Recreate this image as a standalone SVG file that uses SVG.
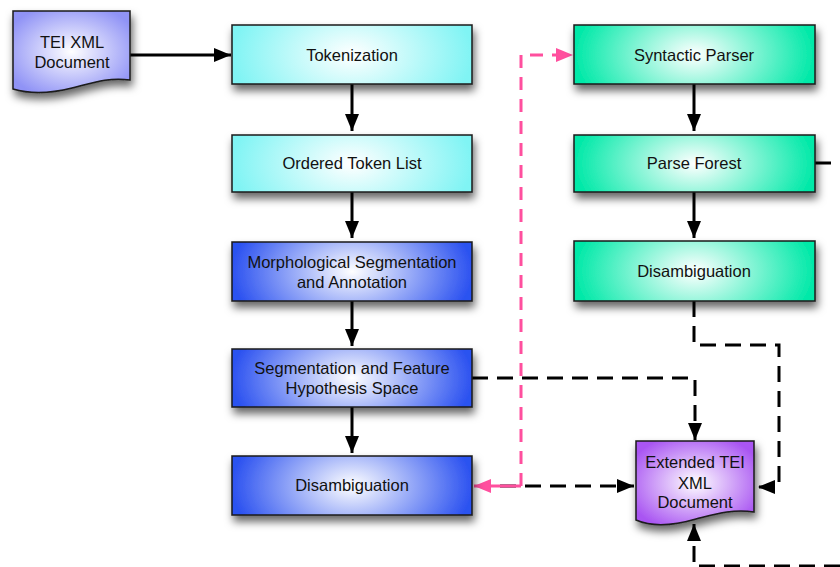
<svg xmlns="http://www.w3.org/2000/svg" width="840" height="567" viewBox="0 0 840 567">
<style>
text{font-family:"Liberation Sans",Arial,sans-serif;font-size:16.5px;fill:#111;text-anchor:middle}
.box{stroke:#1a1a1a;stroke-width:1.5;filter:url(#sh)}
.solid{fill:none;stroke:#000;stroke-width:3}
.dash{fill:none;stroke:#000;stroke-width:3;stroke-dasharray:16 9}
.pink{fill:none;stroke:#ff4f9e;stroke-width:3;stroke-dasharray:13 9}
</style>
<defs>
<filter id="sh" x="-10%" y="-20%" width="125%" height="160%">
<feDropShadow dx="2" dy="6" stdDeviation="4" flood-color="#000" flood-opacity="0.6"/>
</filter>
<radialGradient id="gc" cx="0.5" cy="0.5" r="0.5" gradientTransform="translate(0.5,0.5) scale(1,2.5) translate(-0.5,-0.5)">
<stop offset="0" stop-color="#ffffff"/><stop offset="1" stop-color="#80f4f4"/>
</radialGradient>
<radialGradient id="gb" cx="0.5" cy="0.5" r="0.5" gradientTransform="translate(0.5,0.5) scale(1,2.5) translate(-0.5,-0.5)">
<stop offset="0" stop-color="#ffffff"/><stop offset="1" stop-color="#2c52f0"/>
</radialGradient>
<radialGradient id="gg" cx="0.5" cy="0.5" r="0.5" gradientTransform="translate(0.5,0.5) scale(1,2.5) translate(-0.5,-0.5)">
<stop offset="0" stop-color="#ffffff"/><stop offset="1" stop-color="#00e9a8"/>
</radialGradient>
<radialGradient id="gp" cx="0.5" cy="0.5" r="0.6">
<stop offset="0" stop-color="#ffffff"/><stop offset="1" stop-color="#a955f2"/>
</radialGradient>
<radialGradient id="gl" cx="0.5" cy="0.5" r="0.6">
<stop offset="0" stop-color="#ffffff"/><stop offset="1" stop-color="#9093f6"/>
</radialGradient>
<marker id="ah" markerUnits="userSpaceOnUse" markerWidth="18" markerHeight="16" refX="17" refY="8" orient="auto">
<path d="M0,1 L17,8 L0,15 Z" fill="#000"/>
</marker>
<marker id="ap" markerUnits="userSpaceOnUse" markerWidth="18" markerHeight="16" refX="17" refY="8" orient="auto">
<path d="M0,1 L17,8 L0,15 Z" fill="#ff4f9e"/>
</marker>
</defs>

<g id="connectors">
<path class="solid" d="M130,55 H231" marker-end="url(#ah)"/>
<path class="solid" d="M352,84 V131" marker-end="url(#ah)"/>
<path class="solid" d="M352,192 V238" marker-end="url(#ah)"/>
<path class="solid" d="M352,301 V346" marker-end="url(#ah)"/>
<path class="solid" d="M352,407 V453" marker-end="url(#ah)"/>
<path class="solid" d="M694,84 V131" marker-end="url(#ah)"/>
<path class="solid" d="M694,192 V238" marker-end="url(#ah)"/>
<path class="solid" d="M815,163 H831"/>
<path class="dash" d="M694,301 V345 H779 V487 H758" marker-end="url(#ah)"/>
<path class="dash" d="M472,378 H695 V440" marker-end="url(#ah)"/>
<path class="dash" d="M500,486 H634" marker-end="url(#ah)"/>
<path class="dash" d="M840,566 H694 V524" marker-end="url(#ah)"/>
<path class="pink" d="M521,486 V55 H573" marker-end="url(#ap)"/>
<path fill="none" stroke="#ff4f9e" stroke-width="3" d="M521,486 H474" marker-end="url(#ap)"/>
</g>

<g id="tei-doc">
<path class="box" fill="url(#gl)" d="M13,11 H130 V80 C108,77 92,83 72,88 C52,93 30,94 13,89 Z"/>
<text x="72" y="48">TEI XML</text>
<text x="72" y="68">Document</text>
</g>
<g id="tokenization">
<rect class="box" x="232" y="25" width="240" height="59" fill="url(#gc)"/>
<text x="352" y="61">Tokenization</text>
</g>
<g id="ordered-token-list">
<rect class="box" x="232" y="135" width="240" height="57" fill="url(#gc)"/>
<text x="352" y="169">Ordered Token List</text>
</g>
<g id="morph-seg">
<rect class="box" x="232" y="242" width="240" height="59" fill="url(#gb)"/>
<text x="352" y="268">Morphological Segmentation</text>
<text x="352" y="288">and Annotation</text>
</g>
<g id="seg-feature">
<rect class="box" x="232" y="349" width="240" height="58" fill="url(#gb)"/>
<text x="352" y="374">Segmentation and Feature</text>
<text x="352" y="394">Hypothesis Space</text>
</g>
<g id="disambiguation-left">
<rect class="box" x="232" y="456" width="240" height="59" fill="url(#gb)"/>
<text x="352" y="491">Disambiguation</text>
</g>
<g id="syntactic-parser">
<rect class="box" x="574" y="25" width="241" height="59" fill="url(#gg)"/>
<text x="694" y="61">Syntactic Parser</text>
</g>
<g id="parse-forest">
<rect class="box" x="574" y="135" width="241" height="57" fill="url(#gg)"/>
<text x="694" y="169">Parse Forest</text>
</g>
<g id="disambiguation-right">
<rect class="box" x="574" y="241" width="241" height="60" fill="url(#gg)"/>
<text x="694" y="277">Disambiguation</text>
</g>
<g id="extended-doc">
<path class="box" fill="url(#gp)" d="M636,441 H754 V512 C732,509 716,514 696,519 C672,526 652,527 636,520 Z"/>
<text x="695" y="468">Extended TEI</text>
<text x="695" y="489">XML</text>
<text x="695" y="508">Document</text>
</g>
</svg>
